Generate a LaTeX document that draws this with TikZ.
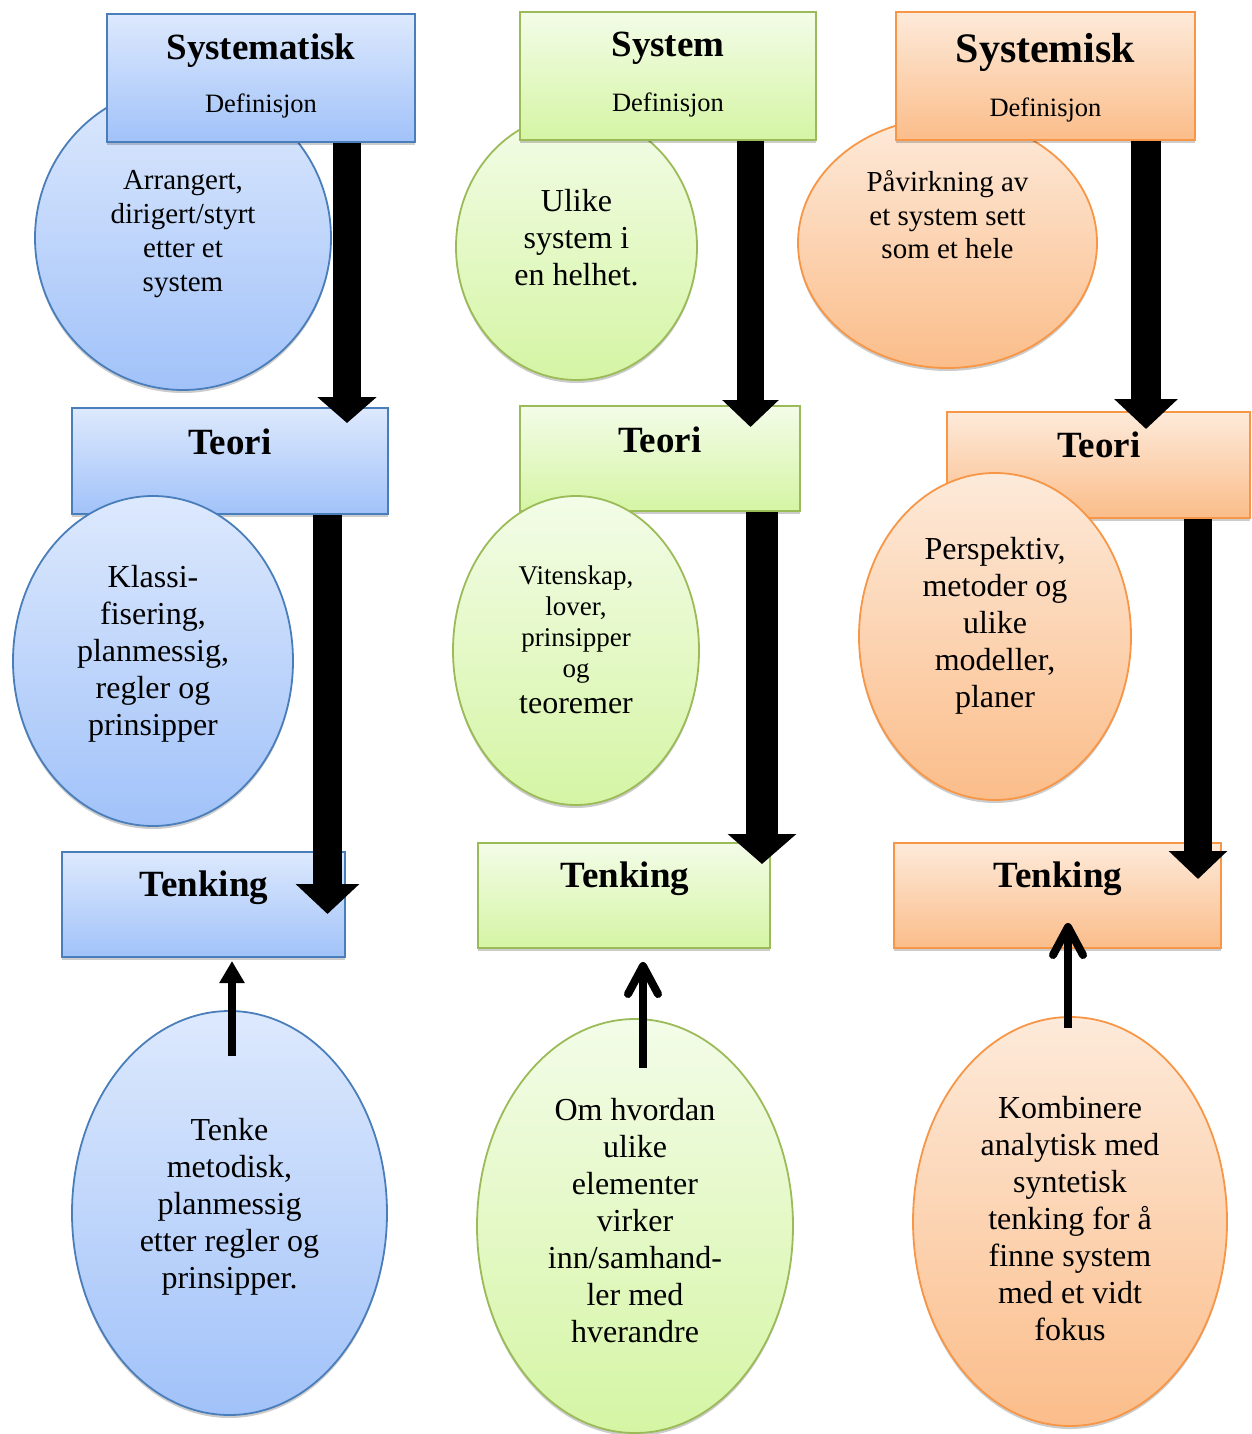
\documentclass[tikz,border=0pt]{standalone}
\usepackage{fontspec}
\setmainfont{Liberation Serif}
\usetikzlibrary{arrows.meta,shadows,shapes.geometric}

\definecolor{bluetop}{RGB}{221,233,253}
\definecolor{bluebot}{RGB}{161,194,249}
\definecolor{blueline}{RGB}{74,126,187}
\definecolor{greentop}{RGB}{243,252,232}
\definecolor{greenbot}{RGB}{213,245,164}
\definecolor{greenline}{RGB}{155,187,89}
\definecolor{orangetop}{RGB}{253,234,218}
\definecolor{orangebot}{RGB}{251,189,138}
\definecolor{orangeline}{RGB}{247,150,70}

\tikzset{
  softshadow/.style={drop shadow={shadow xshift=0pt,shadow yshift=-3pt,opacity=0.2,fill=black}},
  bluefill/.style={top color=bluetop,bottom color=bluebot,draw=blueline,line width=1.8pt},
  greenfill/.style={top color=greentop,bottom color=greenbot,draw=greenline,line width=1.8pt},
  orangefill/.style={top color=orangetop,bottom color=orangebot,draw=orangeline,line width=1.8pt},
  panel/.style={rectangle,inner sep=0pt,softshadow},
  oval/.style={ellipse,inner sep=0pt,softshadow},
  heading/.style={font=\bfseries\fontsize{37}{42}\selectfont,anchor=base,inner sep=0pt},
  subheading/.style={font=\fontsize{26.5}{30}\selectfont,anchor=base,inner sep=0pt},
  body/.style={align=center,inner sep=0pt,font=\fontsize{32}{37}\selectfont},
  bigarrow/.style n args={3}{line width=#1,-{Triangle[width=#2,length=#3]}},
  thinarrow/.style={line width=8pt,-{Triangle[width=24pt,length=22pt]}},
  barbarrow/.style={line width=8pt,-{Straight Barb[round,width=30pt,length=28pt]}},
}

\begin{document}
\begin{tikzpicture}[x=1pt,y=-1pt]
\useasboundingbox (0,0) rectangle (1251,1434);

% first row ovals, partly hidden behind the definition panels
\node[oval,bluefill,minimum width=296pt,minimum height=304pt] (cirA1) at (183,238) {};
\node[oval,greenfill,minimum width=241pt,minimum height=266pt] (cirB1) at (576.5,247) {};
\node[oval,orangefill,minimum width=299pt,minimum height=250pt] (cirC1) at (947.5,243) {};

\node[body,font=\fontsize{29}{34}\selectfont] (txtA1) at (183,234) {Arrangert,\\dirigert/styrt\\etter et\\system};
\node[body] (txtB1) at (576.5,238) {Ulike\\system i\\en helhet.};
\node[body,font=\fontsize{29}{33.5}\selectfont] (txtC1) at (947.5,215) {Påvirkning av\\et system sett\\som et hele};

% definition panels
\node[panel,bluefill,minimum width=308pt,minimum height=128pt] (defA) at (261,78) {};
\node[panel,greenfill,minimum width=296pt,minimum height=128pt] (defB) at (668,76) {};
\node[panel,orangefill,minimum width=299pt,minimum height=128pt] (defC) at (1045.5,76) {};

\node[heading] (hA) at (261,60) {Systematisk};
\node[subheading] (sA) at (261,113) {Definisjon};
\node[heading] (hB) at (668,57) {System};
\node[subheading] (sB) at (668,112) {Definisjon};
\node[heading,font=\bfseries\fontsize{42}{46}\selectfont] (hC) at (1045.5,63) {Systemisk};
\node[subheading] (sC) at (1045.5,117) {Definisjon};

% theory panels
\node[panel,bluefill,minimum width=316pt,minimum height=106pt] (teoA) at (230,461) {};
\node[panel,greenfill,minimum width=280pt,minimum height=105pt] (teoB) at (660,458.5) {};
\node[panel,orangefill,minimum width=303pt,minimum height=106pt] (teoC) at (1098.5,465) {};

\node[heading] (tA) at (230,454) {Teori};
\node[heading] (tB) at (660,452) {Teori};
\node[heading] (tC) at (1099,457) {Teori};

% second row ovals, lying over the theory panels
\node[oval,bluefill,minimum width=280pt,minimum height=330pt] (cirA2) at (153,661) {};
\node[oval,greenfill,minimum width=246pt,minimum height=309pt] (cirB2) at (576,650.5) {};
\node[oval,orangefill,minimum width=272pt,minimum height=327pt] (cirC2) at (995,636.5) {};

\node[body] (txtA2) at (153,654) {Klassi-\\fisering,\\planmessig,\\regler og\\prinsipper};
\node[body,font=\fontsize{27}{31}\selectfont] (txtB2) at (576,625) {Vitenskap,\\lover,\\prinsipper\\og};
\node[body] (txtB2b) at (576,705) {teoremer};
\node[body] (txtC2) at (995,626) {Perspektiv,\\metoder og\\ulike\\modeller,\\planer};

% thinking panels
\node[panel,bluefill,minimum width=283pt,minimum height=105pt] (tenA) at (203.5,904.5) {};
\node[panel,greenfill,minimum width=292pt,minimum height=105pt] (tenB) at (624,895.5) {};
\node[panel,orangefill,minimum width=327pt,minimum height=105pt] (tenC) at (1057.5,895.5) {};

\node[heading] (kA) at (204,896) {Tenking};
\node[heading] (kB) at (625,887) {Tenking};
\node[heading] (kC) at (1058,887) {Tenking};

% bottom ovals
\node[oval,bluefill,minimum width=315pt,minimum height=404pt] (cirA3) at (229.5,1213) {};
\node[oval,greenfill,minimum width=316pt,minimum height=414pt] (cirB3) at (635,1226) {};
\node[oval,orangefill,minimum width=314pt,minimum height=409pt] (cirC3) at (1070,1221.5) {};

\node[body] (txtA3) at (229.5,1207) {Tenke\\metodisk,\\planmessig\\etter regler og\\prinsipper.};
\node[body] (txtB3) at (635,1221) {Om hvordan\\ulike\\elementer\\virker\\inn/samhand-\\ler med\\hverandre};
\node[body] (txtC3) at (1070,1218.5) {Kombinere\\analytisk med\\syntetisk\\tenking for å\\finne system\\med et vidt\\fokus};

% heavy downward arrows
\coordinate (tipA1) at (347,423);
\coordinate (tipA2) at (327.5,914);
\coordinate (tipB1) at (750.5,427);
\coordinate (tipB2) at (762,864);
\coordinate (tipC1) at (1146,429);
\coordinate (tipC2) at (1198,879);

\draw[bigarrow={28pt}{58pt}{26pt}] (defA.south -| tipA1) -- (tipA1);
\draw[bigarrow={29pt}{62pt}{30pt}] (teoA.south -| tipA2) -- (tipA2);
\draw[bigarrow={27pt}{55pt}{27pt}] (defB.south -| tipB1) -- (tipB1);
\draw[bigarrow={32pt}{67pt}{30pt}] (teoB.south -| tipB2) -- (tipB2);
\draw[bigarrow={30pt}{62pt}{30pt}] (defC.south -| tipC1) -- (tipC1);
\draw[bigarrow={28pt}{57pt}{28pt}] (teoC.south -| tipC2) -- (tipC2);

% thin upward arrows from the bottom ovals
\coordinate (tailA) at (232,1056);
\coordinate (headA) at (232,961);
\coordinate (tailB) at (643,1068);
\coordinate (headB) at (643,962);
\coordinate (tailC) at (1068,1028);
\coordinate (headC) at (1068,923);

\draw[thinarrow] (tailA) -- (headA);
\draw[barbarrow] (tailB) -- (headB);
\draw[barbarrow] (tailC) -- (headC);
\end{tikzpicture}
\end{document}
